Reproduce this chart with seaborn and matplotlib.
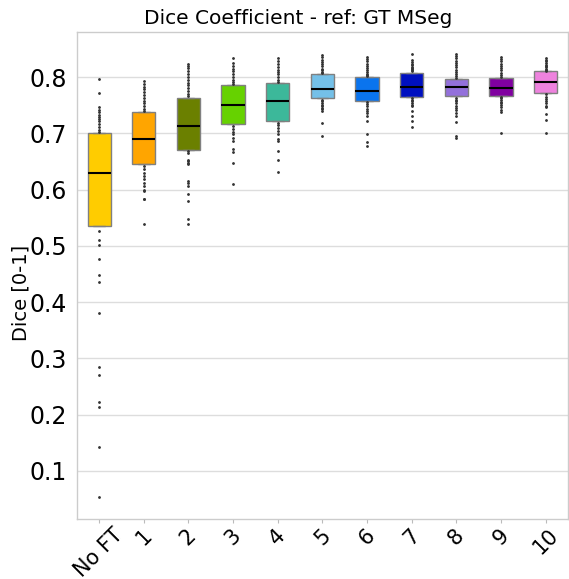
import matplotlib
matplotlib.use("Agg")
import matplotlib.pyplot as plt
import seaborn as sns
import pandas as pd

categories = ["No FT", "1", "2", "3", "4", "5", "6", "7", "8", "9", "10"]
colors = ["#FFCC00", "#FFA500", "#6B8000", "#66D200", "#3CB89A", "#74C0E8",
          "#0A74EE", "#0010C0", "#9370DB", "#8000A0", "#EE82DE"]

# Dice values per group (fliers, box interior estimated)
dice_noft = [0.054, 0.143, 0.213, 0.222, 0.270, 0.285, 0.380, 0.435, 0.448, 0.477, 0.501, 0.511, 0.527,
             0.536,
             0.545, 0.553, 0.562, 0.570, 0.579, 0.587, 0.595, 0.603, 0.610, 0.617, 0.622, 0.627,
             0.630,
             0.635, 0.640, 0.645, 0.650, 0.655, 0.660, 0.666, 0.672, 0.678, 0.684, 0.690, 0.695,
             0.700,
             0.703, 0.706, 0.712, 0.716, 0.722, 0.725, 0.729, 0.733, 0.738, 0.742, 0.747, 0.772, 0.796]
dice_1 = [0.539, 0.584, 0.584, 0.598, 0.600, 0.606, 0.612, 0.618, 0.624, 0.630, 0.636, 0.642,
          0.645,
          0.649, 0.653, 0.657, 0.661, 0.665, 0.669, 0.673, 0.677, 0.681, 0.684, 0.687,
          0.690,
          0.694, 0.698, 0.702, 0.706, 0.710, 0.714, 0.718, 0.722, 0.726, 0.730, 0.734,
          0.737,
          0.740, 0.744, 0.748, 0.753, 0.758, 0.763, 0.768, 0.773, 0.778, 0.783, 0.788, 0.793]
dice_2 = [0.539, 0.547, 0.579, 0.592, 0.607, 0.612, 0.616, 0.645, 0.647, 0.650, 0.653, 0.665, 0.668,
          0.670,
          0.673, 0.677, 0.681, 0.685, 0.688, 0.692, 0.696, 0.699, 0.703, 0.706, 0.709, 0.711,
          0.713,
          0.717, 0.721, 0.725, 0.729, 0.733, 0.737, 0.741, 0.745, 0.749, 0.753, 0.757, 0.760,
          0.763,
          0.766, 0.770, 0.775, 0.780, 0.785, 0.790, 0.795, 0.800, 0.805, 0.810, 0.816, 0.820, 0.824]
dice_3 = [0.609, 0.648, 0.666, 0.672, 0.687, 0.692, 0.698, 0.703, 0.708, 0.713,
          0.716,
          0.720, 0.724, 0.728, 0.732, 0.735, 0.738, 0.741, 0.744, 0.747,
          0.750,
          0.754, 0.758, 0.762, 0.766, 0.770, 0.773, 0.776, 0.779, 0.782,
          0.785,
          0.787, 0.791, 0.795, 0.800, 0.805, 0.810, 0.815, 0.820, 0.825, 0.834]
dice_4 = [0.631, 0.653, 0.669, 0.687, 0.690, 0.699, 0.704, 0.709, 0.714, 0.719,
          0.722,
          0.726, 0.730, 0.734, 0.738, 0.741, 0.744, 0.748, 0.751, 0.754,
          0.757,
          0.760, 0.764, 0.767, 0.770, 0.774, 0.777, 0.780, 0.783, 0.786,
          0.789,
          0.791, 0.795, 0.800, 0.805, 0.809, 0.813, 0.818, 0.823, 0.828, 0.834]
dice_5 = [0.696, 0.718, 0.740, 0.743, 0.745, 0.748, 0.751, 0.754, 0.757, 0.760,
          0.763,
          0.765, 0.766, 0.768, 0.769, 0.771, 0.772, 0.774, 0.775, 0.777,
          0.778,
          0.781, 0.784, 0.787, 0.790, 0.793, 0.796, 0.798, 0.800, 0.803,
          0.805,
          0.807, 0.809, 0.812, 0.815, 0.819, 0.823, 0.827, 0.831, 0.835, 0.839]
dice_6 = [0.677, 0.684, 0.698, 0.722, 0.731, 0.736, 0.740, 0.744, 0.748, 0.752, 0.756,
          0.758,
          0.760, 0.761, 0.763, 0.764, 0.766, 0.767, 0.769, 0.770, 0.772, 0.773,
          0.775,
          0.777, 0.779, 0.781, 0.783, 0.786, 0.788, 0.790, 0.793, 0.795, 0.798,
          0.800,
          0.802, 0.804, 0.806, 0.809, 0.812, 0.816, 0.820, 0.824, 0.828, 0.832, 0.836]
dice_7 = [0.712, 0.722, 0.731, 0.740, 0.749, 0.751, 0.754, 0.757, 0.760, 0.763,
          0.765,
          0.767, 0.768, 0.770, 0.771, 0.773, 0.775, 0.777, 0.779, 0.780,
          0.782,
          0.785, 0.788, 0.790, 0.793, 0.795, 0.798, 0.800, 0.803, 0.805,
          0.808,
          0.810, 0.812, 0.814, 0.816, 0.818, 0.821, 0.824, 0.827, 0.830, 0.841]
dice_8 = [0.692, 0.696, 0.720, 0.731, 0.736, 0.741, 0.745, 0.749, 0.753, 0.757, 0.760, 0.763,
          0.766,
          0.767, 0.769, 0.770, 0.771, 0.773, 0.774, 0.776, 0.777, 0.778, 0.780, 0.781,
          0.782,
          0.783, 0.784, 0.786, 0.787, 0.788, 0.789, 0.790, 0.792, 0.793, 0.794, 0.796,
          0.797,
          0.799, 0.802, 0.805, 0.809, 0.813, 0.817, 0.821, 0.825, 0.829, 0.833, 0.837, 0.841]
dice_9 = [0.700, 0.737, 0.742, 0.746, 0.750, 0.753, 0.756, 0.759, 0.762, 0.765,
          0.767,
          0.768, 0.769, 0.771, 0.772, 0.774, 0.775, 0.777, 0.778, 0.780,
          0.781,
          0.783, 0.785, 0.786, 0.788, 0.790, 0.791, 0.793, 0.795, 0.796,
          0.798,
          0.800, 0.804, 0.808, 0.812, 0.816, 0.820, 0.824, 0.828, 0.832, 0.836]
dice_10 = [0.701, 0.723, 0.734, 0.746, 0.749, 0.753, 0.757, 0.761, 0.765, 0.769,
           0.772,
           0.774, 0.776, 0.778, 0.780, 0.782, 0.784, 0.786, 0.788, 0.790,
           0.791,
           0.793, 0.795, 0.797, 0.799, 0.801, 0.803, 0.805, 0.807, 0.809,
           0.810,
           0.811, 0.813, 0.815, 0.817, 0.819, 0.822, 0.825, 0.828, 0.831, 0.834]

groups = [dice_noft, dice_1, dice_2, dice_3, dice_4, dice_5,
          dice_6, dice_7, dice_8, dice_9, dice_10]

rows = []
for cat, vals in zip(categories, groups):
    for v in vals:
        rows.append({"model": cat, "dice": v})
df = pd.DataFrame(rows)

sns.set_style("whitegrid")
plt.rcParams['font.family'] = ['DejaVu Sans']

fig = plt.figure(figsize=(5.69, 5.79), dpi=100)
ax = fig.add_axes([0.135, 0.104, 0.863, 0.841])

sns.boxplot(data=df, x="model", y="dice", hue="model", order=categories,
            hue_order=categories, palette=colors, saturation=1, legend=False, ax=ax,
            whis=0, width=0.52, linecolor="#808080", linewidth=1.0,
            medianprops=dict(color="black", linewidth=1.5),
            flierprops=dict(marker="o", markersize=1.0, markerfacecolor="#333333",
                            markeredgecolor="#333333"))

ax.set_title("Dice Coefficient - ref: GT MSeg", fontsize=14.5, color="black", x=0.45)
ax.set_ylabel("Dice [0-1]", fontsize=14, color="black")
ax.yaxis.set_label_coords(-0.095, 0.464)
ax.set_xlabel("")
ax.tick_params(axis="y", labelsize=17, colors="black")
ax.tick_params(axis="x", labelsize=15, labelcolor="black", bottom=True,
               length=3, color="#bbbbbb", pad=1.5)
plt.setp(ax.get_xticklabels(), rotation=45, ha="center")
ax.grid(axis="x", visible=False)
ax.grid(axis="y", color="#dddddd", linewidth=1)
for s in ax.spines.values():
    s.set_color("#cccccc")
    s.set_linewidth(1)

fig.savefig("out.png", dpi=100)
